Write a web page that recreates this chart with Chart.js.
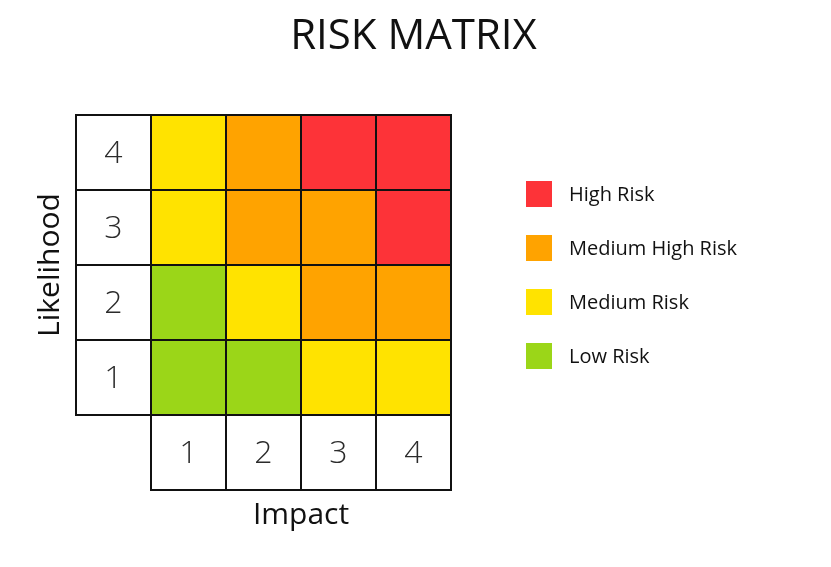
<!DOCTYPE html>
<html lang="en">
<head>
<meta charset="UTF-8">
<title>Risk Matrix</title>
<script src="https://cdn.jsdelivr.net/npm/chart.js"></script>
<style>
    html, body { margin: 0; padding: 0; background: #fff; }
    .chart-box { position: relative; width: 831px; height: 567px; }
</style>
</head>
<body>
<div class="chart-box"><canvas id="riskChart"></canvas></div>
<script>
// axis ticks
var impactTicks = ['1', '2', '3', '4'];
var likelihoodTicks = ['1', '2', '3', '4'];

// legend / risk levels
var riskLabels = ['High Risk', 'Medium High Risk', 'Medium Risk', 'Low Risk'];
var riskColors = ['#fd3338', '#ffa300', '#ffe300', '#9bd618'];

// risk level of each cell (index into riskLabels), impact 1..4
var likelihood1 = [3, 3, 2, 2];
var likelihood2 = [3, 2, 1, 1];
var likelihood3 = [2, 1, 1, 0];
var likelihood4 = [2, 1, 0, 0];
var likelihoodRows = [likelihood1, likelihood2, likelihood3, likelihood4];

var FONT = "'Open Sans', 'DejaVu Sans', sans-serif";

// first column holds the likelihood label cells, bottom row the impact label cells;
// the corner cell is kept in the stack but left invisible
var datasets = [{
    label: 'Impact',
    data: [1].concat(impactTicks.map(function () { return 1; })),
    backgroundColor: ['rgba(0,0,0,0)'].concat(impactTicks.map(function () { return '#ffffff'; })),
    borderWidth: [0].concat(impactTicks.map(function () { return 2; })),
    cellText: [''].concat(impactTicks)
}];
likelihoodRows.forEach(function (row, i) {
    datasets.push({
        label: 'Likelihood ' + likelihoodTicks[i],
        data: [1].concat(row.map(function () { return 1; })),
        backgroundColor: ['#ffffff'].concat(row.map(function (r) { return riskColors[r]; })),
        cellText: [likelihoodTicks[i]]
    });
});

var cellTextPlugin = {
    id: 'cellText',
    afterDatasetsDraw: function (chart) {
        var ctx = chart.ctx;
        ctx.save();
        ctx.font = '300 32px ' + FONT;
        ctx.fillStyle = '#2b2b2b';
        ctx.textAlign = 'center';
        ctx.textBaseline = 'middle';
        chart.data.datasets.forEach(function (ds, di) {
            chart.getDatasetMeta(di).data.forEach(function (bar, i) {
                var t = ds.cellText[i];
                if (!t) return;
                ctx.fillText(t, bar.x, (bar.y + bar.base) / 2 + 1);
            });
        });
        ctx.restore();
    }
};

// title, axis titles
var textPlugin = {
    id: 'texts',
    afterDraw: function (chart) {
        var ctx = chart.ctx, a = chart.chartArea;
        var x = chart.scales.x, y = chart.scales.y;
        ctx.save();
        ctx.fillStyle = '#111';
        ctx.textAlign = 'center';
        ctx.textBaseline = 'middle';
        ctx.font = '42px ' + FONT;
        ctx.fillText('RISK MATRIX', chart.width / 2 - 2, 37);
        ctx.font = '30px ' + FONT;
        ctx.fillText('Impact', (x.getPixelForValue(1) + x.getPixelForValue(4)) / 2, a.bottom + 25);
        ctx.translate(a.left - 26, (y.getPixelForValue(1) + y.getPixelForValue(5)) / 2);
        ctx.rotate(-Math.PI / 2);
        ctx.fillText('Likelihood', 0, 0);
        ctx.restore();
    }
};

var riskLegendPlugin = {
    id: 'riskLegend',
    afterDraw: function (chart) {
        var ctx = chart.ctx, a = chart.chartArea;
        var left = a.right + 75, top = a.top + 79;
        ctx.save();
        ctx.font = '20px ' + FONT;
        ctx.textAlign = 'left';
        ctx.textBaseline = 'middle';
        riskLabels.forEach(function (label, i) {
            var cy = top + i * 54;
            ctx.fillStyle = riskColors[i];
            ctx.fillRect(left, cy - 13, 26, 26);
            ctx.fillStyle = '#111';
            ctx.fillText(label, left + 43, cy + 1);
        });
        ctx.restore();
    }
};

new Chart(document.getElementById('riskChart'), {
    type: 'bar',
    data: {
        labels: [''].concat(impactTicks),
        datasets: datasets
    },
    options: {
        responsive: true,
        maintainAspectRatio: false,
        animation: false,
        layout: { padding: { left: 76, right: 380, top: 115, bottom: 77 } },
        datasets: {
            bar: {
                barPercentage: 1,
                categoryPercentage: 1,
                borderColor: '#111',
                borderWidth: 2,
                borderSkipped: false,
                inflateAmount: 1,
                clip: false
            }
        },
        scales: {
            x: { stacked: true, display: false },
            y: { stacked: true, display: false, min: 0, max: 5 }
        },
        plugins: {
            legend: { display: false },
            tooltip: { enabled: false },
            title: { display: false }
        }
    },
    plugins: [cellTextPlugin, textPlugin, riskLegendPlugin]
});
</script>
</body>
</html>
